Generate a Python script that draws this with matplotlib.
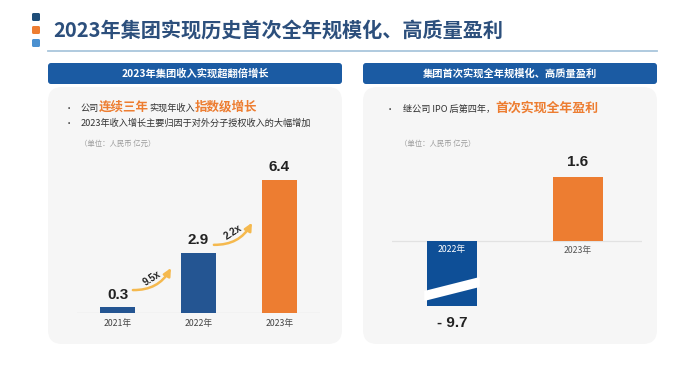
import matplotlib
matplotlib.use("Agg")
import matplotlib.pyplot as plt
from matplotlib.patches import FancyBboxPatch, Polygon

plt.rcParams['font.family'] = ['Noto Sans CJK SC', 'DejaVu Sans']

# ---- data ----
TITLE = "2023年集团实现历史首次全年规模化、高质量盈利"
LEFT_HEADER = "2023年集团收入实现超翻倍增长"
RIGHT_HEADER = "集团首次实现全年规模化、高质量盈利"
UNIT = "（单位：人民币 亿元）"

rev_years = ["2021年", "2022年", "2023年"]
rev_values = [0.3, 2.9, 6.4]
rev_growth = ["9.5x", "2.2x"]

profit_years = ["2022年", "2023年"]
profit_values = [-9.7, 1.6]

# ---- colours ----
BLUE = "#245592"
BLUE2 = "#0e4f97"
ORANGE = "#ed7d31"
GOLD = "#f5b94e"
HEAD = "#1b5ba3"
PANEL = "#f6f6f6"
TITLE_C = "#2c4f7c"
NUM_FONT = ['Liberation Sans', 'DejaVu Sans']

fig = plt.figure(figsize=(6.78, 3.65), dpi=100)
bg = fig.add_axes([0, 0, 1, 1])
bg.set_xlim(0, 678)
bg.set_ylim(365, 0)
bg.axis('off')
renderer = fig.canvas.get_renderer()


def runs(x, y, parts):
    # draw text pieces one after another on a shared baseline
    for s, kw in parts:
        t = bg.text(x, y, s, va='baseline', ha='left', **kw)
        x += t.get_window_extent(renderer).width


def box(x0, y0, x1, y1, color, r):
    bg.add_patch(FancyBboxPatch((x0, y0), x1 - x0, y1 - y0,
                                boxstyle="round,pad=0,rounding_size=%g" % r,
                                fc=color, ec='none'))


# title block
for y0, c in [(13, "#1f4e79"), (26, ORANGE), (39, "#4a90d0")]:
    bg.add_patch(FancyBboxPatch((32, y0), 8, 8, boxstyle="round,pad=0,rounding_size=1.5",
                                fc=c, ec='none'))
bg.text(53, 30, TITLE, fontsize=14.5, fontweight='bold', color=TITLE_C, va='center')
bg.plot([48, 657], [51, 51], color="#a9c6dc", lw=1.3)

# panels
for x0, x1, head in [(48, 342, LEFT_HEADER), (363, 657, RIGHT_HEADER)]:
    box(x0, 87, x1, 344, PANEL, 14)
    box(x0, 63, x1, 84, HEAD, 3)
    bg.text((x0 + x1) / 2, 73.5, head, fontsize=7.4, color='white',
            fontweight='bold', ha='center', va='center')

# bullets
small = dict(fontsize=6.6, color="#333333")
big = dict(fontsize=9, color=ORANGE, fontweight='bold')
bg.text(69, 111, "•", fontsize=6, color="#333333", va='baseline', ha='center')
runs(81, 111, [("公司", small), ("连续三年", big), ("实现年收入", small), ("指数级增长", big)])
bg.text(69, 126, "•", fontsize=6, color="#333333", va='baseline', ha='center')
runs(81, 126, [("2023年收入增长主要归因于对外分子授权收入的大幅增加", small)])
bg.text(80, 144, UNIT, fontsize=5.3, color="#9a9a9a", va='center')

bg.text(390, 112, "•", fontsize=6, color="#333333", va='baseline', ha='center')
runs(403, 112, [("继公司 IPO 后第四年，", small), ("首次实现全年盈利", dict(big, fontsize=9.3))])
bg.text(400, 144, UNIT, fontsize=5.3, color="#9a9a9a", va='center')

W, H = 678.0, 365.0

# ---- left chart: revenue ----
ax1 = fig.add_axes([77 / W, (H - 313) / H, 243 / W, 148 / H])
ax1.patch.set_alpha(0)
x1 = list(range(len(rev_values)))
colors1 = [BLUE] * (len(rev_values) - 1) + [ORANGE]
ax1.bar(x1, rev_values, width=0.42, color=colors1, zorder=3)
ax1.set_xlim(-0.5, len(rev_values) - 0.5)
ax1.set_ylim(0, 7.1)
ax1.axhline(0, color="#dcdcdc", lw=0.9, zorder=2)
for i, v in enumerate(rev_values):
    ax1.text(i, v + 0.25, "%.1f" % v, ha='center', va='bottom', fontsize=11,
             fontweight='bold', color="#222222", family=NUM_FONT)
    ax1.text(i, -0.5, rev_years[i], ha='center', va='center', fontsize=6.3, color="#444444")

# growth arrows between consecutive bars
arrow_y = [(1.1, 2.16), (3.27, 4.33)]
for i, g in enumerate(rev_growth):
    ys, ye = arrow_y[i]
    ax1.annotate("", xy=(i + 0.66, ye), xytext=(i + 0.19, ys),
                 arrowprops=dict(arrowstyle='-|>,head_length=0.45,head_width=0.22',
                                 connectionstyle='arc3,rad=0.3', color=GOLD, lw=1.8,
                                 shrinkA=0, shrinkB=0), zorder=4)
    ax1.text(i + 0.43, (ys + ye) / 2 + 0.05, g, ha='center', va='center', fontsize=7,
             fontweight='bold', rotation=33, color="#222222", family=NUM_FONT)
ax1.axis('off')

# ---- right chart: profit (broken negative bar) ----
ax2 = fig.add_axes([392 / W, (H - 306) / H, 250 / W, 136 / H])
ax2.patch.set_alpha(0)
x2 = list(range(len(profit_values)))
colors2 = [BLUE2 if v < 0 else ORANGE for v in profit_values]
ax2.bar(x2, profit_values, width=0.4, color=colors2, zorder=3)
ax2.set_xlim(-0.476, 1.508)
ax2.set_ylim(-1.625, 1.775)
ax2.axhline(0, color="#e2e2e2", lw=0.9, zorder=2)

for i, v in enumerate(profit_values):
    if v < 0:
        # white break band across the clipped bar
        ax2.add_patch(Polygon([(i - 0.22, -1.25), (i + 0.22, -0.9),
                               (i + 0.22, -1.15), (i - 0.22, -1.5)],
                              closed=True, fc='white', ec='none', zorder=4))
        ax2.text(i, -0.22, profit_years[i], ha='center', va='center',
                 fontsize=6.3, color='white', zorder=5)
        ax2.annotate("- %.1f" % abs(v), xy=(i, 0), xycoords=('data', 'axes fraction'),
                     xytext=(0, -12.5), textcoords='offset points', ha='center',
                     va='center', fontsize=11, fontweight='bold', color="#222222",
                     family=NUM_FONT, annotation_clip=False)
    else:
        ax2.text(i, v + 0.2, "%.1f" % v, ha='center', va='bottom', fontsize=11,
                 fontweight='bold', color="#222222", family=NUM_FONT)
        ax2.text(i, -0.25, profit_years[i], ha='center', va='center',
                 fontsize=6.3, color="#555555")
ax2.axis('off')

fig.savefig("out.png", dpi=100)
